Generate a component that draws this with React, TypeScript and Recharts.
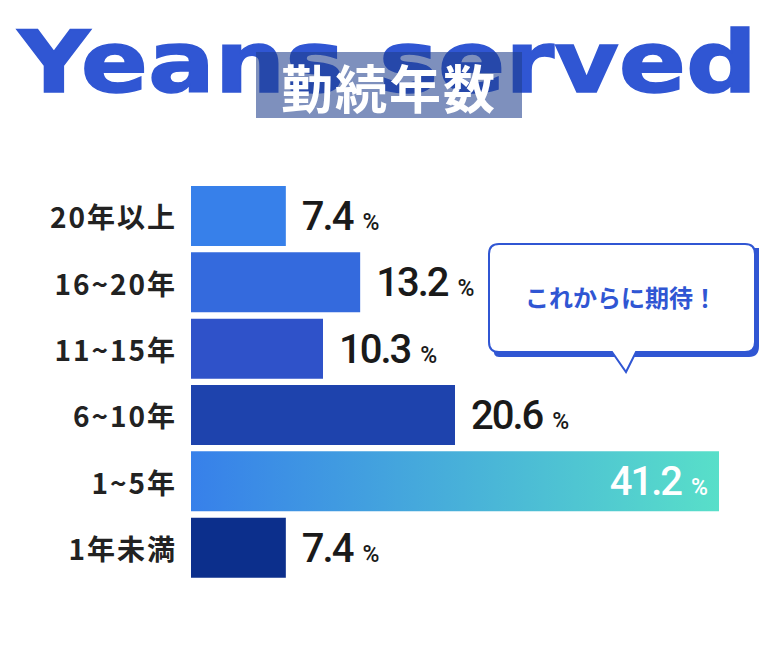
import React from 'react';
import { BarChart, Bar, XAxis, YAxis, Cell, LabelList } from 'recharts';

const categories = ['20年以上', '16~20年', '11~15年', '6~10年', '1~5年', '1年未満'];
const values = [7.4, 13.2, 10.3, 20.6, 41.2, 7.4];
const barColors = ['#3780ea', '#346add', '#2f52c9', '#1e43ad', 'url(#gradBar)', '#0c2f8c'];
const titleText = 'Yeans served';
const subTitle = '勤続年数';
const bubbleText = 'これからに期待！';

const data = categories.map((c, i) => ({ name: c, value: values[i] }));
const maxValue = Math.max(...values);

const CJK = "'Noto Sans CJK JP', 'Noto Sans', sans-serif";
const NUM = "Roboto, 'Noto Sans', sans-serif";

const CatTick = (props: any) => {
  const { x, y, payload } = props;
  return (
    <text x={x} y={y} textAnchor="end" dominantBaseline="central" fontFamily={CJK}
      fontWeight={700} fontSize={28} letterSpacing={2} fill="#222">
      {payload.value}
    </text>
  );
};

const ValueLabel = (props: any) => {
  const { x, y, width, height, value } = props;
  const inside = value === maxValue;
  const cy = y + height / 2 + 14;
  if (inside) {
    return (
      <text x={x + width - 11} y={cy} textAnchor="end" fontFamily={NUM} fill="#fff">
        <tspan fontSize={40} fontWeight={500} letterSpacing={-2}>{value.toFixed(1)}</tspan>
        <tspan fontSize={23} fontWeight={500} dx={10}>%</tspan>
      </text>
    );
  }
  return (
    <text x={x + width + 16} y={cy} textAnchor="start" fontFamily={NUM} fill="#1a1a1a">
      <tspan fontSize={40} fontWeight={500} letterSpacing={-2}>{value.toFixed(1)}</tspan>
      <tspan fontSize={23} fontWeight={500} dx={10}>%</tspan>
    </text>
  );
};

export default function App() {
  return (
    <div style={{ position: 'absolute', left: 0, top: 0, width: 780, height: 660, background: '#fff', overflow: 'hidden' }}>
      <svg width={780} height={180} style={{ position: 'absolute', left: 0, top: 0 }}>
        <text x={18} y={92} fontFamily="'DejaVu Sans', sans-serif" fontWeight={700} fontSize={86}
          textLength={739} lengthAdjust="spacingAndGlyphs"
          fill="#3056d3" stroke="#3056d3" strokeWidth={1.5}>{titleText}</text>
        <rect x={256} y={52} width={266} height={66} fill="rgba(31,62,140,0.575)" />
        <text x={389} y={86} textAnchor="middle" dominantBaseline="central" fontFamily={CJK}
          fontWeight={700} fontSize={52} letterSpacing={2} fill="#fff">{subTitle}</text>
      </svg>
      <div style={{ position: 'absolute', left: 0, top: 0 }}>
        <BarChart width={780} height={660} layout="vertical" data={data}
          margin={{ top: 183, right: 61, bottom: 79, left: 0 }}>
          <defs>
            <linearGradient id="gradBar" x1="0" y1="0" x2="1" y2="0">
              <stop offset="0" stopColor="#3780ea" />
              <stop offset="1" stopColor="#58dfc9" />
            </linearGradient>
          </defs>
          <XAxis type="number" domain={[0, maxValue]} hide />
          <YAxis type="category" dataKey="name" width={191} axisLine={false} tickLine={false}
            tickMargin={8} interval={0} tick={<CatTick />} />
          <Bar dataKey="value" barSize={60} isAnimationActive={false}>
            {data.map((d, i) => <Cell key={d.name} fill={barColors[i]} />)}
            <LabelList dataKey="value" content={<ValueLabel />} />
          </Bar>
        </BarChart>
      </div>
      <svg width={780} height={660} style={{ position: 'absolute', left: 0, top: 0, pointerEvents: 'none' }}>
        <path d="M499 248 H759 Q759 248 759 258 V346 Q759 357 749 357 H499 Q493 357 493 347 V258 Z" fill="#3056d3" />
        <path d="M499 244 H745 Q755 244 755 254 V342 Q755 352 745 352 H636 L626 372 L612 352 H499 Q489 352 489 342 V254 Q489 244 499 244 Z"
          fill="#fff" stroke="#3056d3" strokeWidth={2} />
        <text x={621} y={296} textAnchor="middle" dominantBaseline="central" fontFamily={CJK}
          fontWeight={700} fontSize={24} fill="#3056d3">{bubbleText}</text>
      </svg>
    </div>
  );
}
